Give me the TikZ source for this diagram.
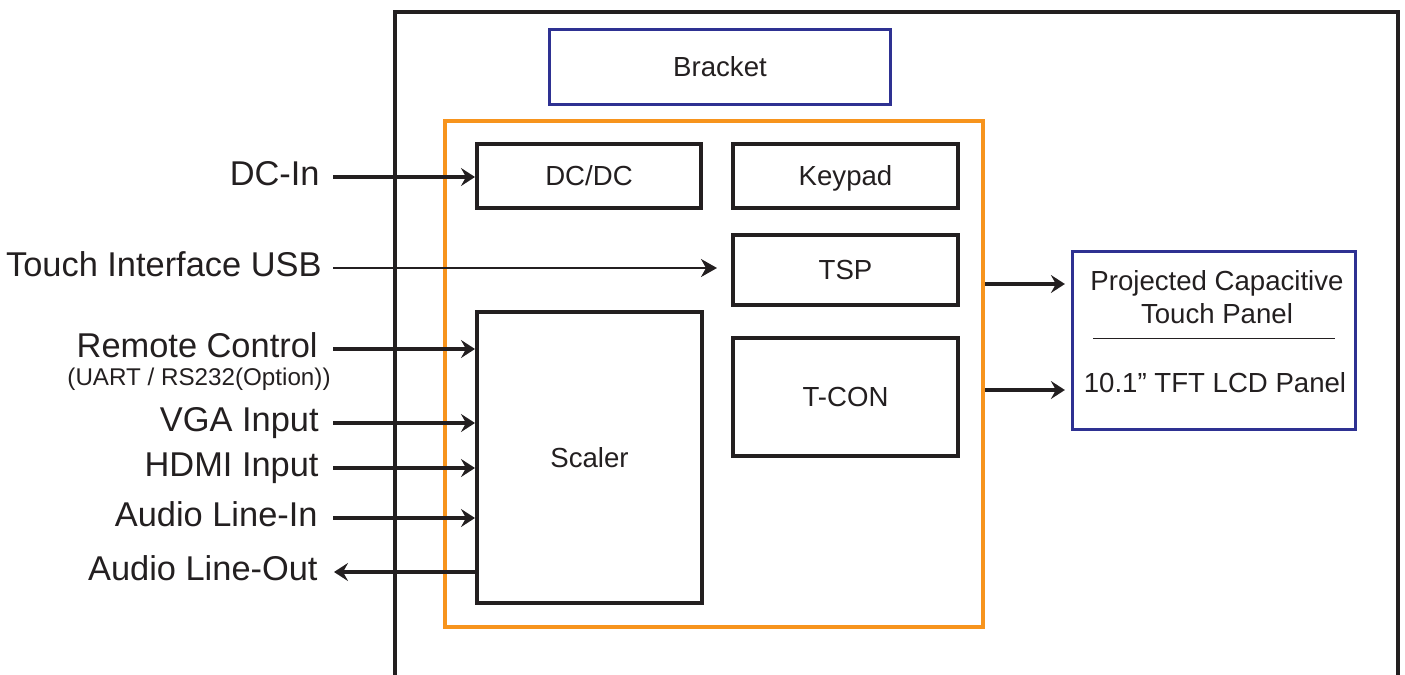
\documentclass[tikz,border=0pt]{standalone}
\usepackage{fontspec}
\setmainfont{Liberation Sans}
\usetikzlibrary{arrows.meta}
\definecolor{ink}{HTML}{231F20}
\definecolor{orng}{HTML}{F7941D}
\definecolor{navy}{HTML}{2E3192}
\tikzset{
  boxfont/.style={font=\fontsize{13.8pt}{16.5pt}\selectfont, text=ink, text height=9.9pt, text depth=0pt},
  blk/.style={draw=ink, line width=2pt, inner sep=0pt, boxfont},
  bluebox/.style={draw=navy, line width=1.6pt, inner sep=0pt, boxfont},
  paneltxt/.style={inner sep=0pt, boxfont},
  lbl/.style={anchor=east, inner sep=0pt, font=\fontsize{17.2pt}{19pt}\selectfont, text=ink, text height=12.3pt, text depth=3.4pt},
  sublbl/.style={anchor=east, inner sep=0pt, font=\fontsize{12.1pt}{14pt}\selectfont, text=ink, text height=8.7pt, text depth=0pt},
  arr/.style={draw=ink, line width=2pt, -{Stealth[length=7pt,width=9pt,inset=2.5pt]}},
  thinarr/.style={draw=ink, line width=1pt, -{Stealth[length=8pt,width=9pt,inset=2.5pt]}},
}
\begin{document}
\begin{tikzpicture}[x=0.5pt,y=-0.5pt]
\useasboundingbox (0,0) rectangle (1405,675);
% outer frame (open at bottom)
\draw[ink, line width=1.6pt] (395,690) -- (395,12) -- (1398,12) -- (1398,690);
% bracket
\node[bluebox, minimum width=170.5pt, minimum height=37.5pt] (bracket) at (720,67) {Bracket};
% orange board
\node[draw=orng, line width=2pt, minimum width=269pt, minimum height=253pt, inner sep=0pt] (board) at (714,374) {};
% inner blocks
\node[blk, minimum width=112pt, minimum height=32pt] (dcdc) at (589,176) {DC/DC};
\node[blk, minimum width=112.5pt, minimum height=32pt] (keypad) at (845.5,176) {Keypad};
\node[blk, minimum width=112.5pt, minimum height=35pt] (tsp) at (845.5,270) {TSP};
\node[blk, minimum width=112.5pt, minimum height=59pt] (tcon) at (845.5,397) {T-CON};
\node[blk, minimum width=112.5pt, minimum height=145.5pt] (scaler) at (589.5,457.5) {Scaler};
% panel
\node[bluebox, minimum width=141.5pt, minimum height=89pt] (panel) at (1214,340.5) {};
\node[paneltxt] (pcapa) at (1217,281) {Projected Capacitive};
\node[paneltxt] (pcapb) at (1217,314) {Touch Panel};
\node[paneltxt] (lcd) at (1215,383) {10.1” TFT LCD Panel};
\draw[ink, line width=0.5pt] (1093,338.5) -- (1335,338.5);
% left labels
\node[lbl] (dcin) at (320,177) {DC-In};
\node[lbl] (usb) at (322,268) {Touch Interface USB};
\node[lbl] (remote) at (318,349) {Remote Control};
\node[sublbl] (uart) at (331,376.5) {(UART / RS232(Option))};
\node[lbl] (vga) at (319,423) {VGA Input};
\node[lbl] (hdmi) at (319,468) {HDMI Input};
\node[lbl] (ain) at (318,518) {Audio Line-In};
\node[lbl] (aout) at (318,572) {Audio Line-Out};
% arrows
\draw[arr] ([xshift=6.5pt]dcin.east) -- (dcin.east -| dcdc.west);
\draw[thinarr] ([xshift=5.5pt]usb.east) -- ([xshift=-7pt]usb.east -| tsp.west);
\draw[arr] ([xshift=7.5pt]remote.east) -- (remote.east -| scaler.west);
\draw[arr] ([xshift=7pt]vga.east) -- (vga.east -| scaler.west);
\draw[arr] ([xshift=7pt]hdmi.east) -- (hdmi.east -| scaler.west);
\draw[arr] ([xshift=7.5pt]ain.east) -- (ain.east -| scaler.west);
\draw[arr] (aout.east -| scaler.west) -- ([xshift=8pt]aout.east);
\coordinate (ra) at (985,284);
\coordinate (rb) at (985,390);
\draw[arr] (ra -| board.east) -- ([xshift=-3pt]ra -| panel.west);
\draw[arr] (rb -| board.east) -- ([xshift=-3pt]rb -| panel.west);
\end{tikzpicture}
\end{document}
